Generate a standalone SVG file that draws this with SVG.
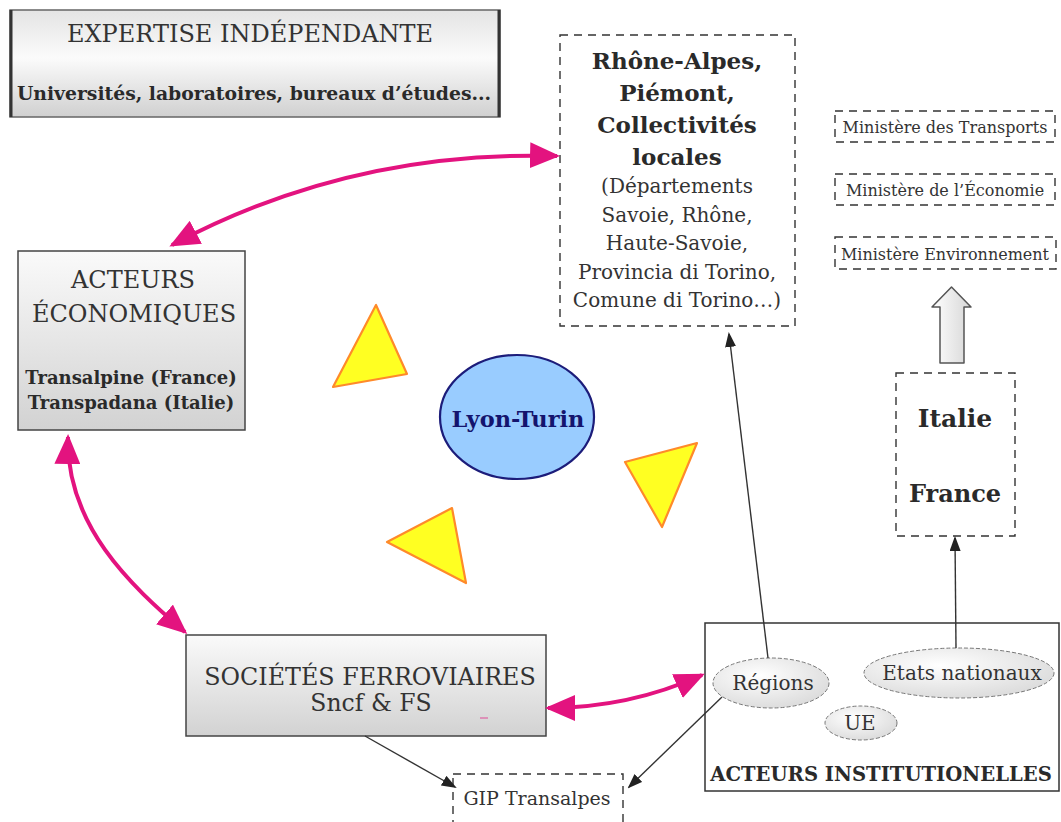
<svg xmlns="http://www.w3.org/2000/svg" width="1061" height="822" viewBox="0 0 1061 822">
<defs>
<linearGradient id="boxg" x1="0" y1="0" x2="0" y2="1">
<stop offset="0" stop-color="#fafafa"/><stop offset="1" stop-color="#d2d2d2"/>
</linearGradient>
<linearGradient id="expg" x1="0" y1="0" x2="0" y2="1">
<stop offset="0" stop-color="#e4e4e4"/><stop offset="0.45" stop-color="#fbfbfb"/><stop offset="1" stop-color="#d0d0d0"/>
</linearGradient>
<radialGradient id="ellg" cx="0.4" cy="0.35" r="0.75">
<stop offset="0" stop-color="#ffffff"/><stop offset="1" stop-color="#d8d8d8"/>
</radialGradient>
<linearGradient id="arrg" x1="0" y1="0" x2="1" y2="0">
<stop offset="0" stop-color="#ffffff"/><stop offset="1" stop-color="#d6d6d6"/>
</linearGradient>
<marker id="pk" markerUnits="userSpaceOnUse" markerWidth="30" markerHeight="26" refX="27" refY="13" orient="auto-start-reverse">
<path d="M0,0 L30,13 L0,26 z" fill="#e3137f"/>
</marker>
<marker id="bk" markerUnits="userSpaceOnUse" markerWidth="15" markerHeight="11" refX="13" refY="5.5" orient="auto">
<path d="M0,0 L15,5.5 L0,11 z" fill="#222"/>
</marker>
</defs>
<style>
text{font-family:"DejaVu Serif","Liberation Serif",serif;fill:#333;text-anchor:middle}
.b{font-weight:bold;fill:#2a2a2a}
.box{fill:url(#boxg);stroke:#444;stroke-width:1.5}
.dash{fill:#fff;stroke:#333;stroke-width:1.4;stroke-dasharray:8 6}
.ell{fill:url(#ellg);stroke:#777;stroke-width:1;stroke-dasharray:4 2}
.tri{fill:#ffff22;stroke:#ff8a2a;stroke-width:2.2;stroke-linejoin:round}
.pink{fill:none;stroke:#e3137f;stroke-width:4}
.blk{fill:none;stroke:#333;stroke-width:1.4}
</style>

<g id="expertise">
<rect x="10" y="10" width="490" height="107" fill="url(#expg)" stroke="#666" stroke-width="1.5"/>
<line x1="11" y1="10" x2="11" y2="117" stroke="#333" stroke-width="3"/>
<line x1="499" y1="10" x2="499" y2="117" stroke="#333" stroke-width="3"/>
<text x="250" y="42" font-size="24">EXPERTISE INDÉPENDANTE</text>
<text x="254" y="100" font-size="18.8" class="b">Universités, laboratoires, bureaux d’études...</text>
</g>

<g id="rhone-alpes">
<rect x="560" y="35" width="235" height="291" class="dash"/>
<text x="677" y="69" font-size="23" class="b">Rhône-Alpes,</text>
<text x="677" y="101" font-size="23" class="b">Piémont,</text>
<text x="677" y="133" font-size="23" class="b">Collectivités</text>
<text x="677" y="165" font-size="23" class="b">locales</text>
<text x="677" y="193" font-size="20">(Départements</text>
<text x="677" y="222" font-size="20">Savoie, Rhône,</text>
<text x="677" y="250" font-size="20">Haute-Savoie,</text>
<text x="677" y="279" font-size="20">Provincia di Torino,</text>
<text x="677" y="307" font-size="20">Comune di Torino…)</text>
</g>

<g id="min-transports">
<rect x="835" y="111" width="220" height="31" class="dash" stroke-dasharray="7 5"/>
<text x="945" y="133" font-size="16">Ministère des Transports</text>
</g>
<g id="min-economie">
<rect x="835" y="174" width="220" height="31" class="dash" stroke-dasharray="7 5"/>
<text x="945" y="196" font-size="16">Ministère de l’Économie</text>
</g>
<g id="min-environnement">
<rect x="835" y="237" width="221" height="32" class="dash" stroke-dasharray="7 5"/>
<text x="945" y="260" font-size="16">Ministère Environnement</text>
</g>

<g id="hollow-arrow">
<polygon points="951.5,287 971,307 964,307 964,363 940,363 940,307 932,307" fill="url(#arrg)" stroke="#555" stroke-width="1.5" stroke-linejoin="round"/>
</g>

<g id="italie-france">
<rect x="896" y="373" width="119" height="163" class="dash"/>
<text x="955" y="427" font-size="25" class="b">Italie</text>
<text x="955" y="502" font-size="24" class="b">France</text>
</g>

<g id="acteurs-economiques">
<rect x="18" y="251" width="227" height="179" class="box"/>
<text x="133" y="288" font-size="24">ACTEURS</text>
<text x="134" y="322" font-size="24">ÉCONOMIQUES</text>
<text x="131" y="384" font-size="18" class="b">Transalpine (France)</text>
<text x="131" y="409" font-size="18" class="b">Transpadana (Italie)</text>
</g>

<g id="triangles">
<polygon points="376,305 333,387 407,374" class="tri"/>
<polygon points="625,462 697,443 662,527" class="tri"/>
<polygon points="452,508 387,542 466,583" class="tri"/>
</g>

<g id="lyon-turin">
<ellipse cx="517" cy="417" rx="77" ry="62" fill="#99ccff" stroke="#1c1c7a" stroke-width="2.2"/>
<text x="518" y="427" font-size="22.5" class="b" style="fill:#14146e">Lyon-Turin</text>
</g>

<g id="societes-ferroviaires">
<rect x="186" y="635" width="360" height="101" class="box"/>
<text x="370" y="685" font-size="23.8">SOCIÉTÉS FERROVIAIRES</text>
<text x="371" y="711" font-size="23.5">Sncf &amp; FS</text>
<line x1="480" y1="718" x2="488" y2="718" stroke="#e3137f" stroke-width="1.2" opacity="0.6"/>
</g>

<g id="gip-transalpes">
<rect x="453" y="774" width="170" height="60" class="dash" stroke-dasharray="7 5"/>
<text x="537" y="805" font-size="19">GIP Transalpes</text>
</g>

<g id="acteurs-institutionnels">
<rect x="705" y="623" width="354" height="168" fill="#fff" stroke="#333" stroke-width="1.5"/>
<text x="881" y="781" font-size="19.6" class="b">ACTEURS INSTITUTIONELLES</text>
</g>
<g id="regions">
<ellipse cx="771" cy="683" rx="58" ry="25" class="ell"/>
<text x="773" y="690" font-size="20">Régions</text>
</g>
<g id="etats-nationaux">
<ellipse cx="959" cy="673" rx="95" ry="25" class="ell"/>
<text x="962" y="680" font-size="20">Etats nationaux</text>
</g>
<g id="ue">
<ellipse cx="861" cy="723" rx="36" ry="17" class="ell"/>
<text x="860" y="730" font-size="20">UE</text>
</g>

<g id="connectors">
<path d="M172,245 Q350,150 557,156" class="pink" marker-start="url(#pk)" marker-end="url(#pk)"/>
<path d="M68,437 C66,525 130,585 185,632" class="pink" marker-start="url(#pk)" marker-end="url(#pk)"/>
<path d="M548,708 Q629,708 702,675" class="pink" marker-start="url(#pk)" marker-end="url(#pk)"/>
<line x1="768" y1="658" x2="729" y2="334" class="blk" marker-end="url(#bk)"/>
<line x1="956" y1="648" x2="955" y2="538" class="blk" marker-end="url(#bk)"/>
<line x1="722" y1="697" x2="629" y2="787" class="blk" marker-end="url(#bk)"/>
<line x1="365" y1="736" x2="455" y2="787" class="blk" marker-end="url(#bk)"/>
</g>
</svg>
